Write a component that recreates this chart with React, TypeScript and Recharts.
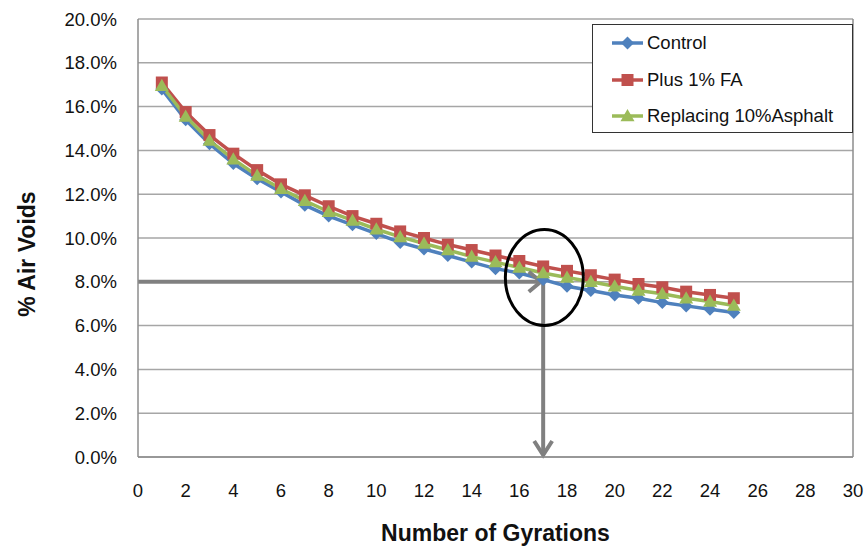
import React from "react";
import {
  LineChart,
  Line,
  XAxis,
  YAxis,
  CartesianGrid,
  Legend,
  ReferenceLine,
  ReferenceDot,
} from "recharts";

const gyrations = [1, 2, 3, 4, 5, 6, 7, 8, 9, 10, 11, 12, 13, 14, 15, 16, 17, 18, 19, 20, 21, 22, 23, 24, 25];
const control = [16.8, 15.4, 14.3, 13.4, 12.7, 12.1, 11.5, 11.0, 10.6, 10.2, 9.8, 9.5, 9.2, 8.9, 8.6, 8.4, 8.1, 7.8, 7.6, 7.4, 7.25, 7.05, 6.9, 6.75, 6.6];
const plusFA = [17.1, 15.75, 14.7, 13.85, 13.1, 12.45, 11.95, 11.45, 11.0, 10.65, 10.3, 10.0, 9.7, 9.45, 9.2, 8.95, 8.7, 8.5, 8.3, 8.1, 7.9, 7.75, 7.55, 7.4, 7.25];
const replacing = [16.95, 15.55, 14.45, 13.6, 12.85, 12.25, 11.7, 11.2, 10.8, 10.4, 10.05, 9.75, 9.45, 9.15, 8.9, 8.65, 8.4, 8.2, 8.0, 7.8, 7.6, 7.45, 7.25, 7.1, 6.92];

const seriesNames = ["Control", "Plus 1% FA", "Replacing 10%Asphalt"];
const xTicks = [0, 2, 4, 6, 8, 10, 12, 14, 16, 18, 20, 22, 24, 26, 28, 30];
const yTicks = [0, 2, 4, 6, 8, 10, 12, 14, 16, 18, 20];

// annotation values (data units)
const targetVoids = 8;
const targetGyration = 17;
const arrowEndX = 16.9;
const circleCenter = { x: 17.05, y: 8.2 };

const data = gyrations.map((g, i) => ({
  g,
  control: control[i],
  plusFA: plusFA[i],
  replacing: replacing[i],
}));

const BLUE = "#4F81BD";
const RED = "#C0504D";
const GREEN = "#9BBB59";
const FONT = "'Liberation Sans', Arial, sans-serif";

const Diamond = ({ cx, cy, size = 6.5 }: any) =>
  cx == null ? null : (
    <path d={`M${cx},${cy - size}L${cx + size},${cy}L${cx},${cy + size}L${cx - size},${cy}Z`} fill={BLUE} />
  );
const Square = ({ cx, cy, size = 6 }: any) =>
  cx == null ? null : <rect x={cx - size} y={cy - size} width={size * 2} height={size * 2} fill={RED} />;
const Triangle = ({ cx, cy, size = 7 }: any) =>
  cx == null ? null : (
    <path d={`M${cx},${cy - size}L${cx + size},${cy + size * 0.75}L${cx - size},${cy + size * 0.75}Z`} fill={GREEN} />
  );

const HArrow = (p: any) => {
  const { x1, y1, x2, y2 } = p;
  return (
    <g>
      <line x1={x1} y1={y1} x2={x2 - 2} y2={y2} stroke="#808080" strokeWidth={4} />
      <path d={`M${x2 - 12},${y2 - 10}L${x2},${y2}L${x2 - 12},${y2 + 10}`} fill="none" stroke="#808080" strokeWidth={4} />
    </g>
  );
};
const VArrow = (p: any) => {
  const { x1, y1, x2, y2 } = p;
  const top = Math.min(y1, y2);
  const bot = Math.max(y1, y2);
  return (
    <g>
      <line x1={x1} y1={top} x2={x2} y2={bot - 2} stroke="#808080" strokeWidth={4} />
      <path d={`M${x1 - 9},${bot - 16}L${x1},${bot - 2}L${x1 + 9},${bot - 16}`} fill="none" stroke="#808080" strokeWidth={4} />
    </g>
  );
};
const Ellipse = (p: any) => (
  <ellipse cx={p.cx} cy={p.cy} rx={39} ry={48} fill="none" stroke="#000" strokeWidth={3} />
);

const LegendContent = () => {
  const icons = [Diamond, Square, Triangle];
  const colors = [BLUE, RED, GREEN];
  return (
    <div
      style={{
        width: 261,
        height: 109,
        border: "1.5px solid #333",
        background: "#fff",
        boxSizing: "border-box",
        fontFamily: FONT,
        fontSize: 18.5,
        color: "#111",
      }}
    >
      {seriesNames.map((n, i) => {
        const Icon = icons[i];
        return (
          <div key={n} style={{ display: "flex", alignItems: "center", height: 36.5, whiteSpace: "nowrap" }}>
            <svg width={54} height={20}>
              <line x1={19} y1={10} x2={50} y2={10} stroke={colors[i]} strokeWidth={3.5} />
              <Icon cx={34.5} cy={10} />
            </svg>
            <span>{n}</span>
          </div>
        );
      })}
    </div>
  );
};

const YTitle = (props: any) => {
  const vb = props.viewBox || {};
  const cy = vb.y + vb.height / 2 + 16;
  return (
    <text
      x={27}
      y={cy}
      transform={`rotate(-90, 27, ${cy})`}
      textAnchor="middle"
      dominantBaseline="central"
      style={{ fontSize: 23, fontWeight: "bold", fill: "#111", fontFamily: FONT }}
    >
      % Air Voids
    </text>
  );
};

export default function App() {
  return (
    <div style={{ position: "absolute", left: 0, top: 0, background: "#fff" }}>
      <LineChart width={868} height={548} data={data} margin={{ top: 19, right: 15, bottom: 0, left: 0 }}>
        <CartesianGrid vertical={false} stroke="#a6a6a6" strokeWidth={1.5} />
        <XAxis
          dataKey="g"
          type="number"
          domain={[0, 30]}
          ticks={xTicks}
          height={91}
          tickLine={false}
          tickSize={0}
          tickMargin={27}
          axisLine={{ stroke: "#8c8c8c", strokeWidth: 1.5 }}
          tick={{ fill: "#111", fontSize: 18.5, fontFamily: FONT }}
          label={{
            value: "Number of Gyrations",
            position: "insideBottom",
            offset: 7,
            style: { fontSize: 23, fontWeight: "bold", fill: "#111", fontFamily: FONT },
          }}
        />
        <YAxis
          type="number"
          domain={[0, 20]}
          ticks={yTicks}
          width={138}
          tickLine={false}
          tickSize={0}
          tickMargin={21}
          interval={0}
          axisLine={{ stroke: "#8c8c8c", strokeWidth: 1.5 }}
          tickFormatter={(v: number) => v.toFixed(1) + "%"}
          tick={{ fill: "#111", fontSize: 18.5, fontFamily: FONT }}
          label={{ content: YTitle }}
        />
        <ReferenceLine x={30} stroke="#8c8c8c" strokeWidth={1.5} />
        <Line
          dataKey="control"
          name={seriesNames[0]}
          stroke={BLUE}
          strokeWidth={3.5}
          isAnimationActive={false}
          dot={(p: any) => <Diamond key={`d${p.index}`} cx={p.cx} cy={p.cy} />}
        />
        <Line
          dataKey="plusFA"
          name={seriesNames[1]}
          stroke={RED}
          strokeWidth={3.5}
          isAnimationActive={false}
          dot={(p: any) => <Square key={`s${p.index}`} cx={p.cx} cy={p.cy} />}
        />
        <Line
          dataKey="replacing"
          name={seriesNames[2]}
          stroke={GREEN}
          strokeWidth={3.5}
          isAnimationActive={false}
          dot={(p: any) => <Triangle key={`t${p.index}`} cx={p.cx} cy={p.cy} />}
        />
        <ReferenceLine
          segment={[
            { x: 0, y: targetVoids },
            { x: arrowEndX, y: targetVoids },
          ]}
          shape={HArrow}
        />
        <ReferenceLine
          segment={[
            { x: targetGyration, y: targetVoids },
            { x: targetGyration, y: 0 },
          ]}
          shape={VArrow}
        />
        <ReferenceDot x={circleCenter.x} y={circleCenter.y} shape={Ellipse} />
        <Legend
          layout="vertical"
          verticalAlign="middle"
          align="center"
          content={LegendContent}
          wrapperStyle={{ position: "absolute", left: 592, top: 24, width: 261, height: 109 }}
        />
      </LineChart>
    </div>
  );
}
